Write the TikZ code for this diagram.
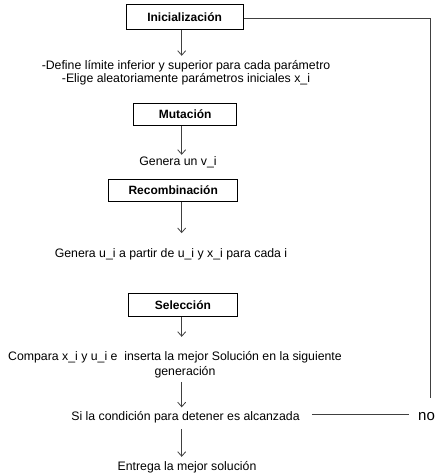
\documentclass[tikz,border=0pt]{standalone}
\usepackage{fontspec}
\setmainfont{Liberation Sans}
\usetikzlibrary{arrows.meta}
\tikzset{
  x=1pt, y=-1pt,
  stepbox/.style={draw=black, line width=0.8pt, font=\fontsize{12}{14}\selectfont\bfseries, inner sep=0pt, anchor=north west},
  txt/.style={font=\fontsize{12.3}{14}\selectfont, inner sep=0pt, anchor=base, text height=8.5pt, text depth=2.5pt},
  arr/.style={draw=black!75, line width=0.8pt, -{Straight Barb[length=4.5pt,width=8pt,line width=0.8pt]}},
  link/.style={draw=black!75, line width=0.8pt},
}
\begin{document}
\begin{tikzpicture}
\useasboundingbox (0,0) rectangle (438,475);
% boxes
\node[stepbox, minimum width=117pt, minimum height=25.6pt] (init) at (125.7,3.7) {Inicialización};
\node[stepbox, minimum width=103pt, minimum height=22.3pt] (mut) at (133.3,102.7) {Mutación};
\node[stepbox, minimum width=129pt, minimum height=21.7pt] (rec) at (108.3,179.3) {Recombinación};
\node[stepbox, minimum width=109pt, minimum height=23pt] (sel) at (128,293) {Selección};
% texts
\coordinate (ax) at (181.7,0);
\node[txt] (d1) at (186,69) {-Define límite inferior y superior para cada parámetro};
\node[txt] (d2) at (186,82.3) {-Elige aleatoriamente parámetros iniciales x\_i};
\node[txt] (v) at (178,165.5) {Genera un v\_i};
\node[txt] (u) at (171,257.5) {Genera u\_i a partir de u\_i y x\_i para cada i};
\node[txt] (c1) at (175,360.5) {Compara x\_i y u\_i e\ \ inserta la mejor Solución en la siguiente};
\node[txt] (c2) at (185,375.8) {generación};
\node[txt] (s) at (185.5,420.5) {Si la condición para detener es alcanzada};
\node[txt] (e) at (187,470.5) {Entrega la mejor solución};
\node[font=\fontsize{15}{17}\selectfont, inner sep=0pt, anchor=base west, text height=8.5pt, text depth=2.5pt] (no) at (418,420) {no};
\coordinate (corner1) at (430,18.5);
\coordinate (loopend) at (430,398);
% arrows
\draw[arr, shorten >=4.5pt] (init.south -| ax) -- (ax |- d1.north);
\draw[arr, shorten >=2pt] (mut.south -| ax) -- (ax |- v.north);
\draw[arr, shorten >=15.7pt] (rec.south -| ax) -- (ax |- u.north);
\draw[arr, shorten >=15pt] (sel.south -| ax) -- (ax |- c1.north);
\draw[arr, shorten <=3.4pt, shorten >=4.5pt] (ax |- c2.south) -- (ax |- s.north);
\draw[arr, shorten <=6pt, shorten >=5pt] (ax |- s.south) -- (ax |- e.north);
% loop
\draw[link, shorten <=12pt, shorten >=9pt] (s.east |- 0,414) -- (no.west |- 0,414);
\draw[link] (init.east |- corner1) -- (corner1) -- (loopend);
\end{tikzpicture}
\end{document}
